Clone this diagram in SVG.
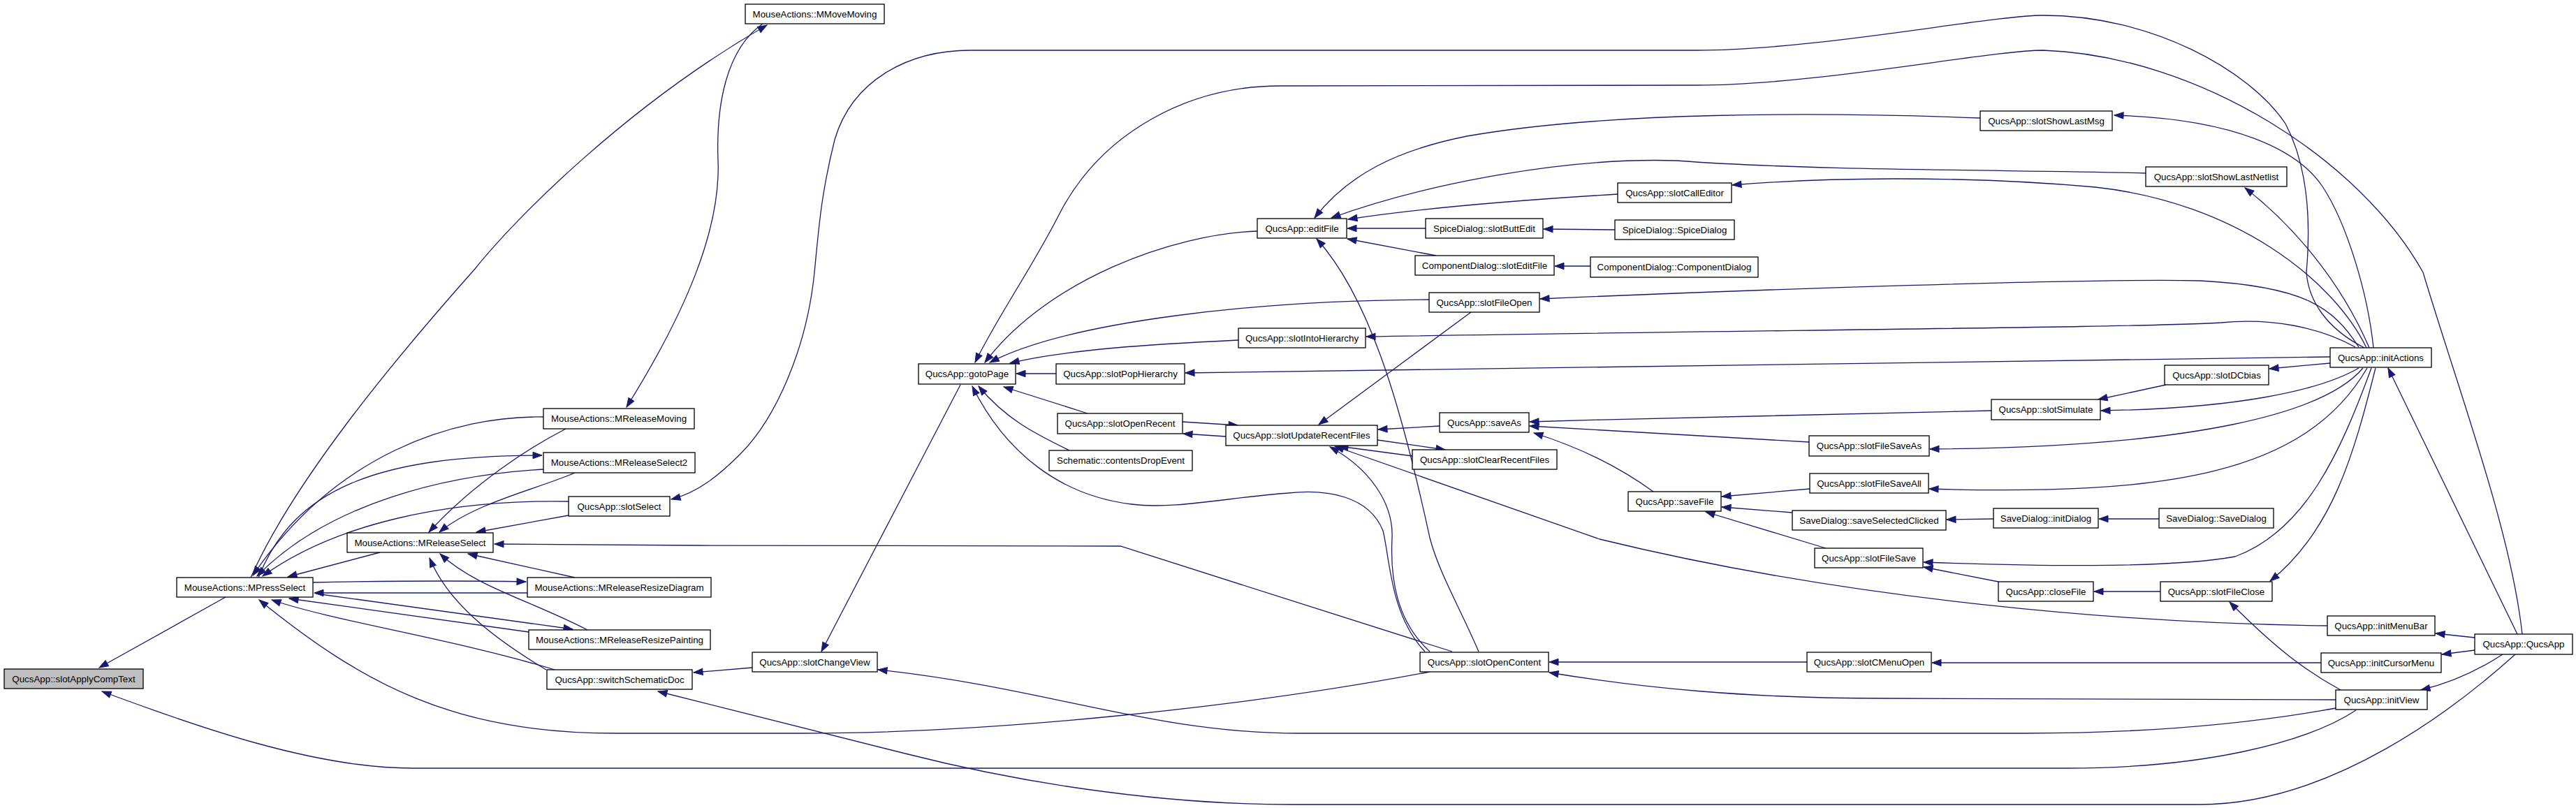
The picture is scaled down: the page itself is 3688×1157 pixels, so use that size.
<svg xmlns="http://www.w3.org/2000/svg" width="3688" height="1157" viewBox="0 0 3688 1157">
<style>
.n rect{fill:#ffffff;stroke:#000000;stroke-width:1.3}
.root rect{fill:#bfbfbf}
text{font-family:"Liberation Sans",Arial,sans-serif;font-size:13.33px;text-anchor:middle;fill:#000000}
.e path{fill:none;stroke:#191970;stroke-width:1.3;marker-end:url(#ah)}
</style>
<defs>
<marker id="ah" markerUnits="userSpaceOnUse" markerWidth="16" markerHeight="12" refX="13" refY="5" orient="auto" overflow="visible">
<path d="M0,0.3 L13,5 L0,9.7 z" fill="#191970" stroke="#191970" stroke-width="1"/>
</marker>
</defs>
<rect width="3688" height="1157" fill="#ffffff"/>
<g id="edges" class="e">
<path d="M323,855 L142,956"/>
<path d="M3373,1017 C3300,1065 3150,1100 2960,1100 L590,1100 C450,1100 280,1040 146,990"/>
<path d="M2047,962 C1900,990 1750,1010 1600,1025 C1400,1045 1250,1050 1150,1050 L882,1050 C650,1050 520,980 371,859"/>
<path d="M2079,933 L1604,782 L1000,781 L708,779"/>
<path d="M794,959 C650,915 480,890 389,859"/>
<path d="M782,959 C700,910 640,860 615,799"/>
<path d="M1077,956 L993,963"/>
<path d="M3601,937 C3520,1010 3340,1152 3150,1152 L1850,1152 C1650,1152 1450,1118 1300,1080 L942,990"/>
<path d="M359,827 C420,690 560,520 680,385 C740,310 900,150 1098,36"/>
<path d="M1092,34 C1040,70 1025,150 1028,230 C1032,330 980,450 897,583"/>
<path d="M778,597 C650,595 480,650 362,824"/>
<path d="M778,672 C640,680 470,720 368,825"/>
<path d="M370,827 C420,700 540,652 776,652"/>
<path d="M814,718 C640,715 480,750 376,825"/>
<path d="M810,614 C760,640 680,690 614,762"/>
<path d="M823,677 C770,700 680,720 629,762"/>
<path d="M814,738 L682,762"/>
<path d="M544,791 L412,826"/>
<path d="M448,834 C600,831 700,832 753,833"/>
<path d="M755,849 L450,849"/>
<path d="M452,850 L820,901"/>
<path d="M757,905 L414,857"/>
<path d="M823,827 L670,793"/>
<path d="M841,902 C760,860 680,840 630,793"/>
<path d="M1375,551 L1176,933"/>
<path d="M1512,535 L1455,535"/>
<path d="M3336,511 C3000,512 2500,518 1697,534"/>
<path d="M1557,592 L1437,554"/>
<path d="M1531,645 C1480,620 1440,600 1401,553"/>
<path d="M1773,487 C1650,493 1530,500 1446,520"/>
<path d="M2046,429 C1800,430 1530,460 1417,519"/>
<path d="M1800,331 C1680,335 1500,400 1410,519"/>
<path d="M3611,908 C3595,760 3520,560 3469,390 C3380,230 3150,80 2925,72 C2850,72 2600,122 2430,122 L1833,123 C1700,123 1580,190 1520,300 C1480,380 1430,450 1396,519"/>
<path d="M3385,498 C3330,470 3305,430 3302,390 C3310,300 3300,230 3272,177 C3220,100 3080,22 2925,22 C2850,22 2600,72 2430,72 L1390,72 C1300,72 1220,115 1195,200 C1175,280 1172,330 1166,390 C1155,500 1110,600 1060,650 C1030,680 1000,705 961,715"/>
<path d="M3398,498 C3390,420 3360,320 3325,267 C3290,215 3200,170 3027,165"/>
<path d="M3392,498 C3350,400 3280,320 3214,269"/>
<path d="M3388,498 C3340,400 3200,290 3000,268 C2800,250 2600,255 2480,265"/>
<path d="M2835,169 C2600,160 2300,160 2100,195 C2000,215 1930,250 1882,312"/>
<path d="M3072,248 C2900,243 2600,245 2400,230 C2250,225 2050,260 1906,312"/>
<path d="M2316,278 C2150,288 2020,300 1930,314"/>
<path d="M2041,327 L1929,327"/>
<path d="M2312,329 L2210,328"/>
<path d="M2056,366 L1929,342"/>
<path d="M2277,381 L2226,381"/>
<path d="M2117,933 C2090,870 2060,820 2047,770 C2010,600 1965,430 1885,342"/>
<path d="M3377,497 C3340,440 3300,410 3150,402 C3000,398 2500,415 2205,428"/>
<path d="M3372,497 C3320,468 3250,455 3180,462 C3100,468 2600,472 1956,482"/>
<path d="M2106,447 L1888,608"/>
<path d="M2061,610 L1973,615"/>
<path d="M1972,630 L2069,644"/>
<path d="M2022,653 L1917,639"/>
<path d="M2047,933 C2000,890 1990,830 1993,770 C1995,720 1960,670 1904,640"/>
<path d="M2040,933 C1990,880 1990,800 1980,760 C1960,710 1900,700 1844,706 C1760,712 1680,730 1620,722 C1520,710 1440,650 1392,553"/>
<path d="M1693,604 L1772,609"/>
<path d="M1755,625 L1694,621"/>
<path d="M2851,588 C2600,592 2400,598 2190,604"/>
<path d="M2590,633 L2190,610"/>
<path d="M2367,704 C2320,670 2260,640 2196,620"/>
<path d="M2591,700 L2465,711"/>
<path d="M2566,734 L2465,726"/>
<path d="M2614,785 L2442,733"/>
<path d="M2854,743 L2787,744"/>
<path d="M3091,743 L3005,743"/>
<path d="M3101,551 L3004,572"/>
<path d="M3336,520 L3249,528"/>
<path d="M3377,527 C3320,560 3200,585 3008,588"/>
<path d="M3383,527 C3330,590 3150,640 2763,643"/>
<path d="M3389,527 C3300,680 3100,710 2762,700"/>
<path d="M3395,527 C3350,650 3300,760 3200,797 C3100,815 2900,810 2754,805"/>
<path d="M2861,833 L2754,812"/>
<path d="M3093,847 L2998,847"/>
<path d="M3401,527 C3370,650 3340,760 3250,832"/>
<path d="M3351,988 C3300,960 3260,930 3192,862"/>
<path d="M2587,948 L2218,948"/>
<path d="M3323,949 L2766,949"/>
<path d="M3604,908 L3419,527"/>
<path d="M3543,913 L3487,907"/>
<path d="M3543,931 L3496,937"/>
<path d="M3583,937 C3540,965 3500,980 3466,988"/>
<path d="M3332,896 C3050,893 2650,860 2290,772 L1911,639"/>
<path d="M3344,1002 L2700,1000 C2500,1000 2350,985 2218,963"/>
<path d="M3344,1014 C3200,1040 3050,1050 2900,1050 L1860,1050 C1650,1050 1500,985 1257,959"/>
</g>
<g id="n1" class="n root"><rect x="6" y="958" width="199" height="28"/><text x="105.5" y="976.5">QucsApp::slotApplyCompText</text></g>
<g id="n2" class="n"><rect x="253" y="827" width="195" height="28"/><text x="350.5" y="845.5">MouseActions::MPressSelect</text></g>
<g id="n3" class="n"><rect x="1067" y="6" width="199" height="28"/><text x="1166.5" y="24.5">MouseActions::MMoveMoving</text></g>
<g id="n4" class="n"><rect x="778" y="585" width="216" height="29"/><text x="886" y="604">MouseActions::MReleaseMoving</text></g>
<g id="n5" class="n"><rect x="778" y="648" width="217" height="29"/><text x="886.5" y="667">MouseActions::MReleaseSelect2</text></g>
<g id="n6" class="n"><rect x="814" y="711" width="145" height="28"/><text x="886.5" y="729.5">QucsApp::slotSelect</text></g>
<g id="n7" class="n"><rect x="497" y="763" width="209" height="28"/><text x="601.5" y="781.5">MouseActions::MReleaseSelect</text></g>
<g id="n8" class="n"><rect x="755" y="827" width="263" height="28"/><text x="886.5" y="845.5">MouseActions::MReleaseResizeDiagram</text></g>
<g id="n9" class="n"><rect x="757" y="902" width="260" height="28"/><text x="887" y="920.5">MouseActions::MReleaseResizePainting</text></g>
<g id="n10" class="n"><rect x="783" y="959" width="208" height="28"/><text x="887" y="977.5">QucsApp::switchSchematicDoc</text></g>
<g id="n11" class="n"><rect x="1077" y="934" width="179" height="28"/><text x="1166.5" y="952.5">QucsApp::slotChangeView</text></g>
<g id="n12" class="n"><rect x="1315" y="521" width="139" height="29"/><text x="1384.5" y="540">QucsApp::gotoPage</text></g>
<g id="n13" class="n"><rect x="1512" y="521" width="184" height="29"/><text x="1604" y="540">QucsApp::slotPopHierarchy</text></g>
<g id="n14" class="n"><rect x="1514" y="592" width="179" height="29"/><text x="1603.5" y="611">QucsApp::slotOpenRecent</text></g>
<g id="n15" class="n"><rect x="1502" y="645" width="205" height="29"/><text x="1604.5" y="664">Schematic::contentsDropEvent</text></g>
<g id="n16" class="n"><rect x="1773" y="470" width="182" height="28"/><text x="1864" y="488.5">QucsApp::slotIntoHierarchy</text></g>
<g id="n17" class="n"><rect x="1755" y="609" width="217" height="29"/><text x="1863.5" y="628">QucsApp::slotUpdateRecentFiles</text></g>
<g id="n18" class="n"><rect x="1800" y="313" width="128" height="28"/><text x="1864" y="331.5">QucsApp::editFile</text></g>
<g id="n19" class="n"><rect x="2316" y="262" width="163" height="28"/><text x="2397.5" y="280.5">QucsApp::slotCallEditor</text></g>
<g id="n20" class="n"><rect x="2041" y="313" width="168" height="28"/><text x="2125" y="331.5">SpiceDialog::slotButtEdit</text></g>
<g id="n21" class="n"><rect x="2312" y="315" width="171" height="28"/><text x="2397.5" y="333.5">SpiceDialog::SpiceDialog</text></g>
<g id="n22" class="n"><rect x="2026" y="366" width="199" height="28"/><text x="2125.5" y="384.5">ComponentDialog::slotEditFile</text></g>
<g id="n23" class="n"><rect x="2277" y="368" width="240" height="29"/><text x="2397" y="387">ComponentDialog::ComponentDialog</text></g>
<g id="n24" class="n"><rect x="2835" y="159" width="189" height="28"/><text x="2929.5" y="177.5">QucsApp::slotShowLastMsg</text></g>
<g id="n25" class="n"><rect x="3072" y="239" width="202" height="28"/><text x="3173" y="257.5">QucsApp::slotShowLastNetlist</text></g>
<g id="n26" class="n"><rect x="2046" y="419" width="158" height="28"/><text x="2125" y="437.5">QucsApp::slotFileOpen</text></g>
<g id="n27" class="n"><rect x="2061" y="591" width="128" height="28"/><text x="2125" y="609.5">QucsApp::saveAs</text></g>
<g id="n28" class="n"><rect x="2022" y="644" width="207" height="28"/><text x="2125.5" y="662.5">QucsApp::slotClearRecentFiles</text></g>
<g id="n29" class="n"><rect x="2590" y="624" width="172" height="29"/><text x="2676" y="643">QucsApp::slotFileSaveAs</text></g>
<g id="n30" class="n"><rect x="2591" y="678" width="170" height="28"/><text x="2676" y="696.5">QucsApp::slotFileSaveAll</text></g>
<g id="n31" class="n"><rect x="2331" y="704" width="133" height="28"/><text x="2397.5" y="722.5">QucsApp::saveFile</text></g>
<g id="n32" class="n"><rect x="2566" y="731" width="220" height="28"/><text x="2676" y="749.5">SaveDialog::saveSelectedClicked</text></g>
<g id="n33" class="n"><rect x="2598" y="785" width="155" height="28"/><text x="2675.5" y="803.5">QucsApp::slotFileSave</text></g>
<g id="n34" class="n"><rect x="3336" y="498" width="145" height="28"/><text x="3408.5" y="516.5">QucsApp::initActions</text></g>
<g id="n35" class="n"><rect x="3099" y="523" width="149" height="28"/><text x="3173.5" y="541.5">QucsApp::slotDCbias</text></g>
<g id="n36" class="n"><rect x="2851" y="572" width="156" height="29"/><text x="2929" y="591">QucsApp::slotSimulate</text></g>
<g id="n37" class="n"><rect x="2854" y="728" width="150" height="28"/><text x="2929" y="746.5">SaveDialog::initDialog</text></g>
<g id="n38" class="n"><rect x="3091" y="728" width="164" height="28"/><text x="3173" y="746.5">SaveDialog::SaveDialog</text></g>
<g id="n39" class="n"><rect x="2033" y="934" width="184" height="28"/><text x="2125" y="952.5">QucsApp::slotOpenContent</text></g>
<g id="n40" class="n"><rect x="2587" y="934" width="178" height="28"/><text x="2676" y="952.5">QucsApp::slotCMenuOpen</text></g>
<g id="n41" class="n"><rect x="2861" y="833" width="136" height="28"/><text x="2929" y="851.5">QucsApp::closeFile</text></g>
<g id="n42" class="n"><rect x="3093" y="833" width="160" height="28"/><text x="3173" y="851.5">QucsApp::slotFileClose</text></g>
<g id="n43" class="n"><rect x="3332" y="882" width="154" height="28"/><text x="3409" y="900.5">QucsApp::initMenuBar</text></g>
<g id="n44" class="n"><rect x="3323" y="935" width="172" height="28"/><text x="3409" y="953.5">QucsApp::initCursorMenu</text></g>
<g id="n45" class="n"><rect x="3344" y="988" width="131" height="28"/><text x="3409.5" y="1006.5">QucsApp::initView</text></g>
<g id="n46" class="n"><rect x="3543" y="908" width="140" height="29"/><text x="3613" y="927">QucsApp::QucsApp</text></g>
</svg>
